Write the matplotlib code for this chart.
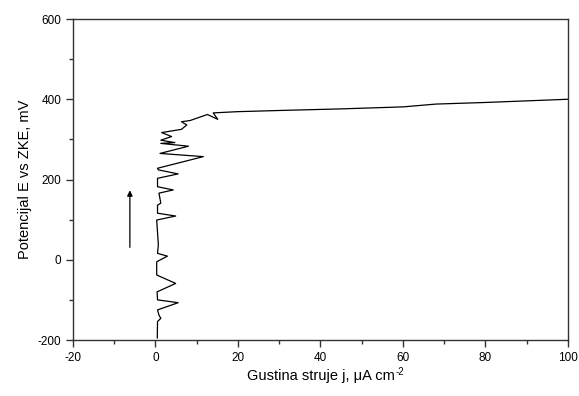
import matplotlib.pyplot as plt
from matplotlib.ticker import MultipleLocator

plt.rcParams['font.family'] = ['Liberation Sans', 'DejaVu Sans']
plt.rcParams['axes.unicode_minus'] = False

# current density (uA/cm2) and potential (mV)
j = [0.44, 0.5, 1.3, 0.85, 0.5, 5.5, 0.5, 0.4, 4.9, 0.3, 0.3, 2.9, 0.5,
     0.7, 0.3, 4.9, 0.5, 0.5, 1.3, 0.85, 4.3, 0.5, 0.5, 5.5, 0.7,
     0.5, 11.6, 1.1, 8.0, 1.3, 4.7, 1.3, 3.9, 1.5, 6.3, 7.6, 6.3, 8.4,
     12.6, 15.1, 14.0, 19.7, 30, 45, 60, 68, 80, 100]
E = [-195, -154, -146, -138, -125, -107, -100, -80, -59, -38, -5, 9, 16,
     37, 99, 109, 116, 136, 141, 166, 174, 182, 203, 214, 224,
     228, 257, 265, 283, 290, 292, 298, 307, 317, 325, 336, 344, 347,
     362, 350, 366, 369, 372, 376, 381, 388, 392, 400]

arrow_x = -6.2
arrow_E = [24, 180]

fig = plt.figure(figsize=(5.79, 3.96), dpi=100)
ax = fig.add_axes([0.126, 0.1414, 0.855, 0.8106])
ax.plot(j, E, color='black', lw=0.9)
ax.annotate('', xy=(arrow_x, arrow_E[1]), xytext=(arrow_x, arrow_E[0]),
            arrowprops=dict(arrowstyle='-|>', color='black', lw=0.9,
                            mutation_scale=8))

ax.set_xlim(-20, 100)
ax.set_ylim(-200, 600)
ax.xaxis.set_major_locator(MultipleLocator(20))
ax.xaxis.set_minor_locator(MultipleLocator(10))
ax.yaxis.set_major_locator(MultipleLocator(200))
ax.yaxis.set_minor_locator(MultipleLocator(100))
ax.tick_params(which='major', length=5, width=1, labelsize=8.5, color='#333333')
ax.tick_params(which='minor', length=3, width=1, color='#333333')
for s in ax.spines.values():
    s.set_color('#333333')
    s.set_linewidth(1)

ax.set_xlabel('Gustina struje j, μA cm', fontsize=10.5)
ax.set_ylabel('Potencijal E vs ZKE, mV', fontsize=10.5)
# superscript with a plain hyphen, as in the original
ax.annotate('-2', xy=(1, 1), xycoords=ax.xaxis.label, xytext=(0.5, 2),
            textcoords='offset points', fontsize=7, ha='left', va='top')

fig.savefig('out.png', dpi=100)
